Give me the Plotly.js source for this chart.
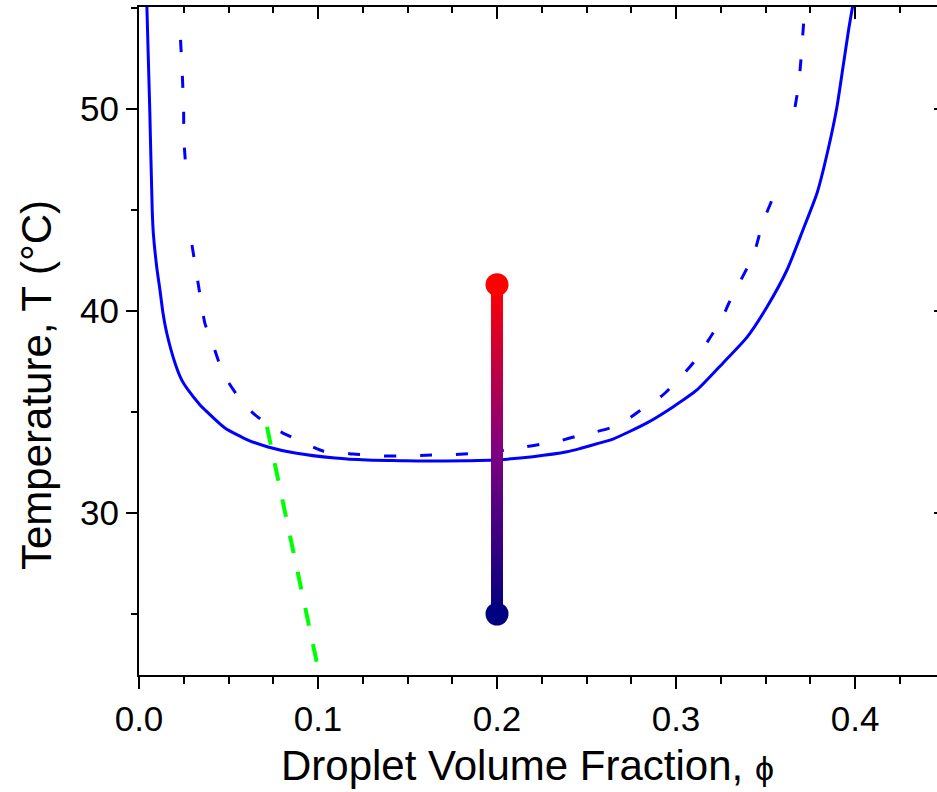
<!DOCTYPE html>
<html>
<head>
<meta charset="utf-8">
<script src="https://cdn.plot.ly/plotly-3.0.1.min.js"></script>
<style>html,body{margin:0;padding:0;background:#fff;}#chart{width:937px;height:792px;}</style>
</head>
<body>
<div id="chart"></div>
<script>
// Solid blue curve (phi, T)
const phiSolid = [0.0042,0.0043,0.0060,0.0074,0.0080,0.0099,0.0117,0.0134,0.0155,0.0201,0.0239,0.0274,0.0341,0.0369,0.0480,0.0609,0.0721,0.0872,0.1095,0.1274,0.1458,0.1587,0.1832,0.1978,0.2201,0.2391,0.2464,0.2575,0.2648,0.2838,0.2983,0.3117,0.3263,0.3397,0.3508,0.3620,0.3709,0.3788,0.3849,0.3899,0.3933,0.3964,0.3983,0.3994];
const tSolid   = [56.0,55.4,50.00,44.95,43.86,42.18,41.04,39.90,38.91,37.43,36.58,36.09,35.35,35.10,34.21,33.61,33.27,32.97,32.72,32.62,32.59,32.57,32.59,32.62,32.79,33.03,33.19,33.47,33.66,34.46,35.25,36.09,37.43,38.71,40.20,42.03,44.01,45.84,47.97,50.10,52.08,53.91,54.90,55.4];

// Dashed blue curve (phi, T); null = break in the curve
const phiDashed = [0.0232,0.0240,0.0249,0.0251,0.0268,null,0.0296,0.0330,0.0369,0.0397,0.0458,0.0492,0.0575,0.0637,0.0743,0.0804,0.1028,0.1095,0.1196,0.1385,0.1447,0.1654,0.1721,0.1961,0.2089,0.2156,0.2257,0.2324,0.2480,0.2547,0.2637,0.2732,0.2788,0.2877,0.2939,0.3067,0.3117,0.3207,0.3246,0.3296,0.3425,0.3447,0.3486,0.3542,0.3564,null,0.3665,0.3676,0.3693,0.3704,0.3715];
const tDashed   = [53.42,52.08,50.10,48.47,46.39,null,43.27,41.39,39.36,38.76,37.18,36.58,35.50,34.95,34.21,33.96,33.07,33.04,32.92,32.82,32.82,32.87,32.87,33.02,33.17,33.27,33.42,33.51,33.89,34.01,34.23,34.65,35.00,35.50,35.94,37.13,37.67,38.91,39.41,40.40,42.62,43.17,44.41,45.64,46.39,null,50.10,50.69,51.93,53.17,54.50];

// Green dashed line
const phiGreen = [0.0715, 0.0994];
const tGreen   = [34.26, 22.57];

// Temperature quench at fixed phi
const phiQuench = 0.2;
const tQuench   = [25.0, 41.3];

const xRange = [0, 0.4458];
const yRange = [21.98, 55.05];
const plotW = 937 - 139;
const plotH = 675 - 7;
const halfBarPx = 6;
const halfBar = halfBarPx * (xRange[1] - xRange[0]) / plotW;

const gradScale = [[0,'#000080'],[0.5,'#800080'],[1,'#ff0000']];
const FONT = 'Liberation Sans, Arial, sans-serif';

const traces = [
  {x: phiSolid, y: tSolid, mode: 'lines', line: {color: '#0000ff', width: 3, shape: 'spline', smoothing: 0.6}, hoverinfo: 'skip'},
  {x: phiDashed, y: tDashed, mode: 'lines', line: {color: '#0000ff', width: 3, dash: '12px,24px', shape: 'spline', smoothing: 0.6}, hoverinfo: 'skip'},
  {x: phiGreen, y: tGreen, mode: 'lines', line: {color: '#00ff00', width: 4, dash: '18px,19px'}, hoverinfo: 'skip'},
  {x: [phiQuench - halfBar, phiQuench + halfBar, phiQuench + halfBar, phiQuench - halfBar, phiQuench - halfBar],
   y: [tQuench[0], tQuench[0], tQuench[1], tQuench[1], tQuench[0]],
   mode: 'lines', fill: 'toself', line: {width: 0, color: 'rgba(0,0,0,0)'},
   fillgradient: {type: 'vertical', colorscale: gradScale}, hoverinfo: 'skip'},
  {x: [phiQuench, phiQuench], y: tQuench, mode: 'markers',
   marker: {size: 23, color: tQuench, colorscale: gradScale, cmin: tQuench[0], cmax: tQuench[1], line: {width: 0}}, hoverinfo: 'skip'},
  {x: [], y: [], xaxis: 'x2', yaxis: 'y2', mode: 'markers', hoverinfo: 'skip'}
];

const layout = {
  width: 937, height: 792,
  margin: {l: 139, r: 0, t: 7, b: 117, pad: 0},
  paper_bgcolor: '#ffffff', plot_bgcolor: '#ffffff',
  showlegend: false,
  font: {family: FONT, color: '#000000'},
  xaxis: {
    range: xRange, tick0: 0, dtick: 0.1, tickformat: '.1f',
    ticks: 'outside', ticklen: 12, tickwidth: 2, tickcolor: '#000',
    minor: {dtick: 0.025, ticks: 'outside', ticklen: 7, tickwidth: 2, tickcolor: '#000'},
    showline: true, linewidth: 2, linecolor: '#000',
    showgrid: false, zeroline: false,
    tickfont: {family: FONT, size: 35, color: '#000'}
  },
  xaxis2: {
    range: xRange, overlaying: 'x', side: 'top', anchor: 'y2', tick0: 0, dtick: 0.1,
    ticks: 'inside', ticklen: 12, tickwidth: 2, tickcolor: '#000',
    minor: {dtick: 0.025, ticks: 'inside', ticklen: 6, tickwidth: 2, tickcolor: '#000'},
    showline: true, linewidth: 2, linecolor: '#000',
    showgrid: false, zeroline: false, showticklabels: false
  },
  yaxis: {
    range: yRange, tick0: 0, dtick: 10,
    ticks: 'outside', ticklen: 11, tickwidth: 2, tickcolor: '#000',
    minor: {dtick: 5, ticks: 'outside', ticklen: 6, tickwidth: 2, tickcolor: '#000'},
    showline: true, linewidth: 2, linecolor: '#000',
    showgrid: false, zeroline: false,
    tickfont: {family: FONT, size: 35, color: '#000'}
  },
  yaxis2: {
    range: yRange, overlaying: 'y', side: 'right', anchor: 'x2', tick0: 0, dtick: 10,
    ticks: 'inside', ticklen: 3, tickwidth: 2, tickcolor: '#000',
    showline: false, showgrid: false, zeroline: false, showticklabels: false
  },
  annotations: [
    {text: 'Droplet Volume Fraction, <span style="font-size:34px">ϕ</span>', xref: 'paper', yref: 'paper',
     x: (527 - 139) / plotW, y: (675 - 791) / plotH, xanchor: 'center', yanchor: 'bottom',
     showarrow: false, font: {family: FONT, size: 42, color: '#000'}},
    {text: 'Temperature, T (°C)', xref: 'paper', yref: 'paper', textangle: -90,
     x: (36 - 139) / plotW, y: (675 - 385) / plotH, xanchor: 'center', yanchor: 'middle',
     showarrow: false, font: {family: FONT, size: 42, color: '#000'}}
  ]
};

Plotly.newPlot('chart', traces, layout, {displayModeBar: false, staticPlot: true});
</script>
</body>
</html>
